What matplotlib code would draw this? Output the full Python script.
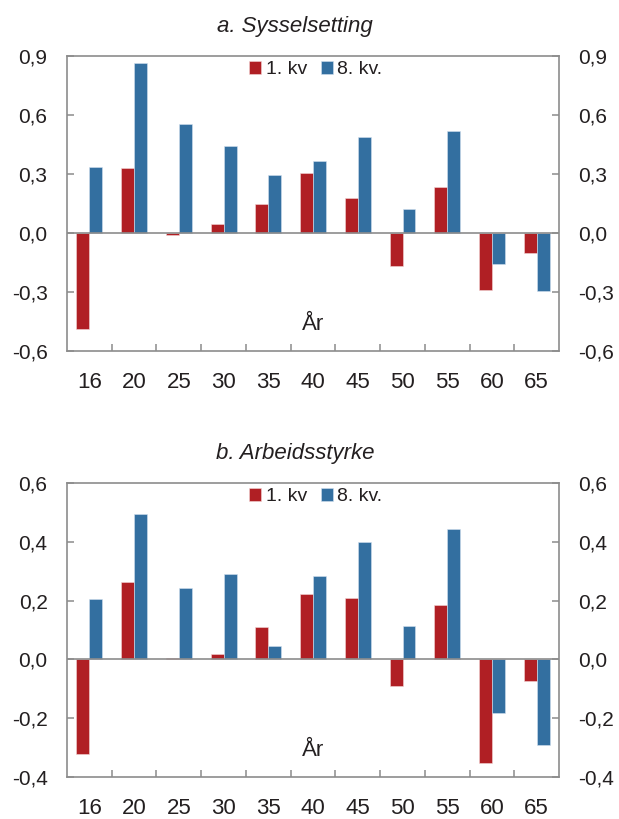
import numpy as np
import matplotlib
matplotlib.use("Agg")
import matplotlib.pyplot as plt
from matplotlib.ticker import FuncFormatter, FixedLocator

plt.rcParams['font.family'] = ['Liberation Sans', 'DejaVu Sans']

# Aldersgrupper (x-akse)
alder = ['16', '20', '25', '30', '35', '40', '45', '50', '55', '60', '65']

# a. Sysselsetting
syss_1kv = [-0.49, 0.33, -0.01, 0.045, 0.15, 0.305, 0.18, -0.17, 0.235, -0.29, -0.10]
syss_8kv = [0.335, 0.865, 0.555, 0.44, 0.295, 0.365, 0.487, 0.12, 0.518, -0.16, -0.295]

# b. Arbeidsstyrke
arb_1kv = [-0.322, 0.263, 0.004, 0.017, 0.11, 0.224, 0.208, -0.09, 0.184, -0.352, -0.074]
arb_8kv = [0.205, 0.494, 0.243, 0.29, 0.046, 0.284, 0.40, 0.112, 0.442, -0.182, -0.292]

rod = '#b01f24'
bla = '#336fa0'
tekst = '#231f20'
grå = '#8c8c8c'


def komma(v, pos):
    s = f"{v:.1f}".replace('.', ',')
    if s == '-0,0':
        s = '0,0'
    return s


def tegn(ax, serie1, serie2, tittel, ylim, ysteg):
    x = np.arange(len(alder))
    b = 0.29
    ax.bar(x - b / 2, serie1, width=b, color=rod, edgecolor='#f3d6d6', linewidth=0.4, label='1. kv')
    ax.bar(x + b / 2, serie2, width=b, color=bla, edgecolor='#d3e1ee', linewidth=0.4, label='8. kv.')
    ax.axhline(0, color=grå, linewidth=1.2, zorder=3)

    ax.set_xlim(-0.5, len(alder) - 0.5)
    ax.set_ylim(*ylim)
    ax.set_yticks(np.arange(ylim[0], ylim[1] + 1e-9, ysteg))
    ax.yaxis.set_major_formatter(FuncFormatter(komma))

    ax.set_xticks(x)
    ax.set_xticklabels(alder)
    ax.xaxis.set_minor_locator(FixedLocator(x[:-1] + 0.5))
    ax.tick_params(axis='x', which='major', length=0, pad=15, labelsize=16, labelcolor=tekst)
    ax.tick_params(axis='x', which='minor', direction='in', length=5, color=grå, width=1.1)
    ax.tick_params(axis='y', direction='in', length=5, color=grå, width=1.1,
                   left=True, right=True, labelleft=True, labelright=True,
                   pad=14, labelsize=15, labelcolor=tekst)
    for sp in ax.spines.values():
        sp.set_color(grå)
        sp.set_linewidth(1.2)

    # tittelen står litt til venstre for midten i originalen
    ax.set_title(tittel, fontstyle='italic', fontsize=16, color=tekst, pad=17, x=0.463)
    ax.text(0.5, 0.09, 'År', transform=ax.transAxes, ha='center', va='center',
            fontsize=16, color=tekst)
    ax.legend(loc='center', bbox_to_anchor=(0.506, 0.953), ncol=2, frameon=False,
              fontsize=14, handlelength=0.6, handleheight=0.6, handletextpad=0.25,
              columnspacing=0.7, labelcolor=tekst, borderpad=0)


fig = plt.figure(figsize=(6.19, 8.19), dpi=100)
ax1 = fig.add_axes([0.1082, 0.5714, 0.795, 0.3602])
ax2 = fig.add_axes([0.1082, 0.0513, 0.795, 0.359])

tegn(ax1, syss_1kv, syss_8kv, 'a. Sysselsetting', (-0.6, 0.9), 0.3)
tegn(ax2, arb_1kv, arb_8kv, 'b. Arbeidsstyrke', (-0.4, 0.6), 0.2)

fig.savefig('out.png', dpi=100)
